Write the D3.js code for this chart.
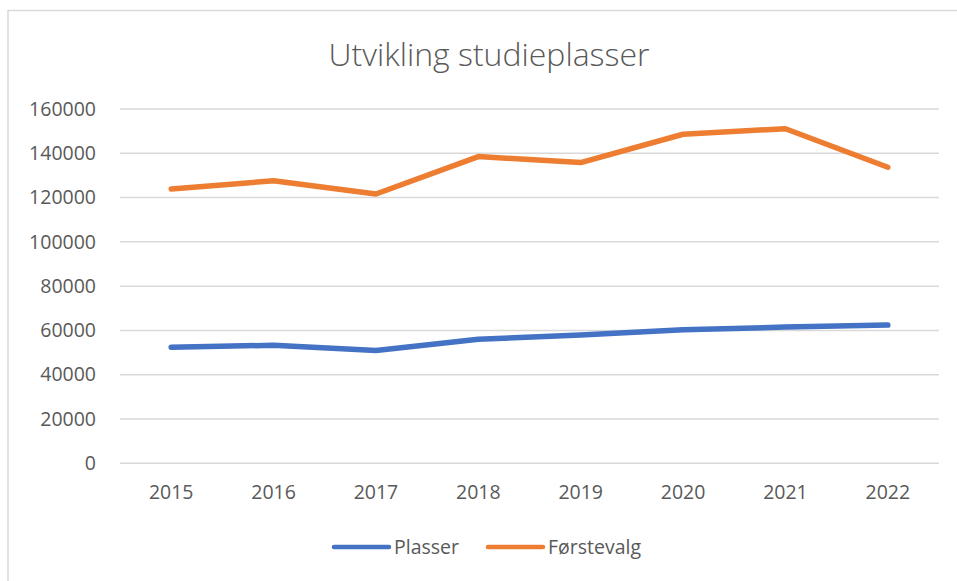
<!DOCTYPE html>
<html>
<head>
<meta charset="utf-8">
<script src="https://cdn.jsdelivr.net/npm/d3@7"></script>
<style>
    body { margin: 0; background: #fff; }
    svg { display: block; }
    text { font-family: "Open Sans", "DejaVu Sans", sans-serif; fill: #595959; }
</style>
</head>
<body>
<svg width="957" height="581"></svg>
<script>
var years = ['2015', '2016', '2017', '2018', '2019', '2020', '2021', '2022'];
var plasser = [52400, 53300, 50900, 56000, 57900, 60300, 61500, 62400];
var forstevalg = [123900, 127600, 121600, 138500, 135800, 148600, 151100, 133700];
var yTicks = [0, 20000, 40000, 60000, 80000, 100000, 120000, 140000, 160000];
var seriesNames = ['Plasser', 'Førstevalg'];
var seriesColors = ['#4472c4', '#ed7d31'];

var svg = d3.select('svg'),
    width = 957,
    height = 581,
    plot = { left: 120, right: 939, top: 109, bottom: 463.3 };

// chart frame
svg.append('rect')
    .attr('x', 8)
    .attr('y', 10.5)
    .attr('width', width)
    .attr('height', height)
    .attr('fill', '#fff')
    .attr('stroke', '#d9d9d9')
    .attr('stroke-width', 1.5);

var x = d3.scaleBand()
    .domain(years)
    .range([plot.left, plot.right])
    .padding(0);

var y = d3.scaleLinear()
    .domain([0, 160000])
    .range([plot.bottom, plot.top]);

// gridlines
svg.append('g')
    .selectAll('line')
    .data(yTicks)
    .enter()
    .append('line')
    .attr('x1', plot.left)
    .attr('x2', plot.right)
    .attr('y1', function (d) { return y(d); })
    .attr('y2', function (d) { return y(d); })
    .attr('stroke', '#d9d9d9')
    .attr('stroke-width', 1.5);

// y labels
var yAxis = d3.axisLeft(y)
    .tickValues(yTicks)
    .tickFormat(d3.format('d'))
    .tickSize(0)
    .tickPadding(0);

svg.append('g')
    .attr('transform', 'translate(96,0)')
    .call(yAxis)
    .call(function (g) { g.select('.domain').remove(); })
    .selectAll('text')
    .attr('font-size', 19.5)
    .attr('fill', '#595959')
    .style('font-family', '"Open Sans", sans-serif');

// x labels
var xAxis = d3.axisBottom(x)
    .tickSize(0)
    .tickPadding(0);

svg.append('g')
    .attr('transform', 'translate(0,485)')
    .call(xAxis)
    .call(function (g) { g.select('.domain').remove(); })
    .selectAll('text')
    .attr('dy', '0.71em')
    .attr('font-size', 19.5)
    .attr('fill', '#595959')
    .style('font-family', '"Open Sans", sans-serif');

// lines
var line = d3.line()
    .x(function (d, i) { return x(years[i]) + x.bandwidth() / 2; })
    .y(function (d) { return y(d); });

[plasser, forstevalg].forEach(function (values, i) {
    svg.append('path')
        .datum(values)
        .attr('d', line)
        .attr('fill', 'none')
        .attr('stroke', seriesColors[i])
        .attr('stroke-width', 5.5)
        .attr('stroke-linecap', 'round')
        .attr('stroke-linejoin', 'round');
});

// title
svg.append('text')
    .attr('x', 489)
    .attr('y', 66)
    .attr('text-anchor', 'middle')
    .attr('font-size', 32)
    .attr('font-weight', 300)
    .text('Utvikling studieplasser');

// legend
var legendX = [334, 488];
var legend = svg.append('g')
    .selectAll('g')
    .data(seriesNames)
    .enter()
    .append('g')
    .attr('transform', function (d, i) { return 'translate(' + legendX[i] + ',547)'; });

legend.append('line')
    .attr('x1', 0)
    .attr('x2', 55)
    .attr('stroke', function (d, i) { return seriesColors[i]; })
    .attr('stroke-width', 4.5)
    .attr('stroke-linecap', 'round');

legend.append('text')
    .attr('x', 60)
    .attr('dy', '0.35em')
    .attr('font-size', 19.5)
    .text(function (d) { return d; });
</script>
</body>
</html>
